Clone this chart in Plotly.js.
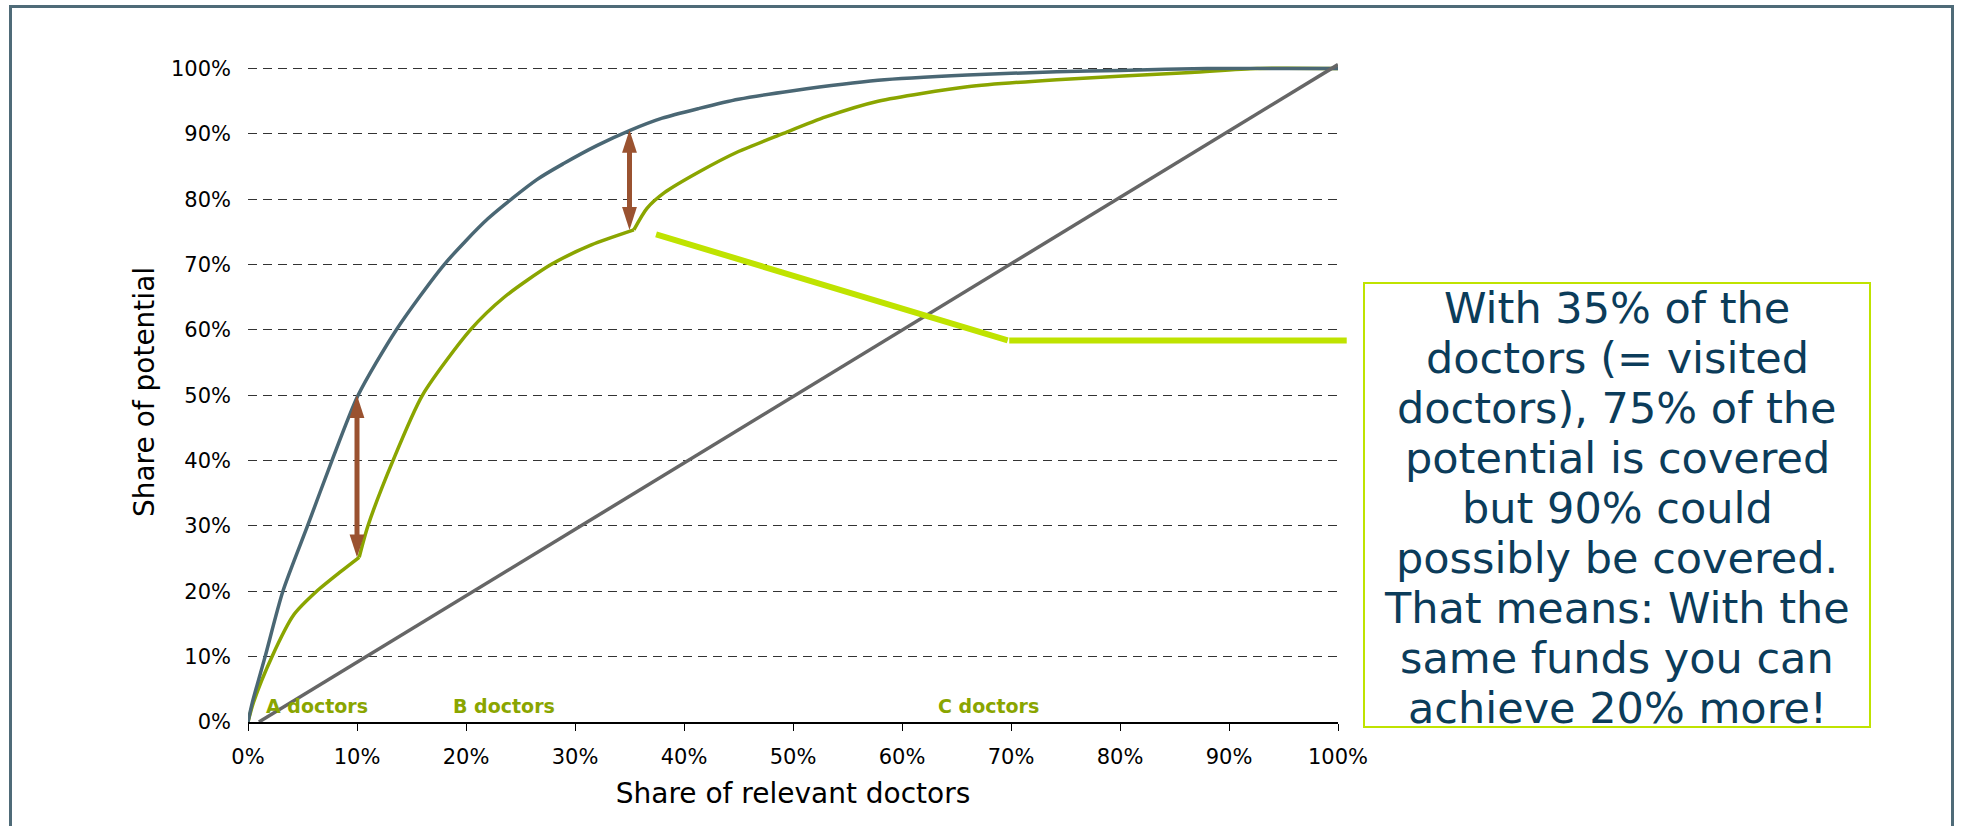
<!DOCTYPE html>
<html>
<head>
<meta charset="utf-8">
<script src="https://cdn.plot.ly/plotly-3.0.1.min.js"></script>
<style>html,body{margin:0;padding:0;background:#fff;}#chart{width:1961px;height:826px;}</style>
</head>
<body>
<div id="chart"></div>
<script>
// ---- data (percent values) ----
var optimalX = [0, 0.4, 1.57, 3.2, 5.46, 7.7, 10.1, 13.6, 18, 22, 26.5, 29, 32, 35, 38, 41.4, 45, 50, 57.8, 66, 74.2, 80, 88, 100];
var optimalY = [0, 3, 10, 20, 30, 40, 50, 60, 70, 77, 83, 85.5, 88.2, 90.5, 92.4, 93.9, 95.3, 96.6, 98.2, 99, 99.5, 99.7, 100, 100];

// actual (visited) curve, split into A / B / C doctor segments
var actualAX = [0, 0.5, 2.2, 4.2, 6.3, 8.5, 10.2];
var actualAY = [0, 3, 10, 16.4, 20, 23, 25.2];
var actualBX = [10.2, 11, 13.3, 16, 20.4, 23.5, 27.8, 31.5, 35.4];
var actualBY = [25.2, 30, 40, 50, 60, 65, 70, 73, 75.3];
var actualCX = [35.4, 36.6, 38.2, 41.4, 45, 49, 53, 57.8, 66, 74.2, 86.5, 92.6, 100];
var actualCY = [75.3, 78.6, 81, 84.2, 87.3, 90, 92.6, 95, 97.2, 98.3, 99.4, 100, 100];

var equalX = [1, 100];
var equalY = [0, 100.6];

var gapX = [10, 35];
var gapLow = [25.2, 75.3];
var gapHigh = [50, 90.6];

var calloutX = [37.3, 69.7, 100.8];
var calloutY = [74.7, 58.4, 58.4];

var segmentLabels = ['A doctors', 'B doctors', 'C doctors'];
var segmentX = [6.3, 23.5, 67.9];
var segmentY = [2.45, 2.45, 2.45];

var tickVals = [0, 10, 20, 30, 40, 50, 60, 70, 80, 90, 100];
var tickText = ['0%', '10%', '20%', '30%', '40%', '50%', '60%', '70%', '80%', '90%', '100%'];

var boxLines = ['With 35% of the', 'doctors (= visited', 'doctors), 75% of the', 'potential is covered',
  'but 90% could', 'possibly be covered.', 'That means: With the', 'same funds you can', 'achieve 20% more!'];

// ---- styles ----
var FONT = 'DejaVu Sans, Verdana, sans-serif';
var C_OPT = '#4a6774';
var C_ACT = '#8aa500';
var C_EQ = '#666666';
var C_ARROW = '#9a5230';
var C_CALL = '#bfe300';
var C_TEXT = '#0b3c5a';
var C_FRAME = '#4f6b78';

// layout geometry (pixels)
var W = 1961, H = 826;
var L = 248, R = 623, T = 62, B = 104;
var pw = W - L - R, ph = H - T - B;
function px2x(p) { return (p - L) / pw; }
function px2y(p) { return (H - B - p) / ph; }

function curve(x, y, color) {
  return {x: x, y: y, mode: 'lines', line: {color: color, width: 3.5, shape: 'spline', smoothing: 0.7}, hoverinfo: 'skip'};
}

var traces = [
  curve(actualAX, actualAY, C_ACT),
  curve(actualBX, actualBY, C_ACT),
  curve(actualCX, actualCY, C_ACT),
  curve(optimalX, optimalY, C_OPT),
  {x: equalX, y: equalY, mode: 'lines', line: {color: C_EQ, width: 3.5}, hoverinfo: 'skip'}
];

// arrow heads of the gap arrows
var headX = [], headY = [], headA = [];
for (var i = 0; i < gapX.length; i++) {
  headX.push(gapX[i], gapX[i]);
  headY.push(gapLow[i], gapHigh[i]);
  headA.push(180, 0);
}
traces.push({
  x: headX, y: headY, mode: 'markers', hoverinfo: 'skip', cliponaxis: false,
  marker: {symbol: 'arrow', size: 24, angle: headA, color: C_ARROW, line: {width: 0}}
});

var annotations = [];
// shafts of the gap arrows
for (var j = 0; j < gapX.length; j++) {
  annotations.push({
    x: gapX[j], y: gapHigh[j], xref: 'x', yref: 'y',
    ax: gapX[j], ay: gapLow[j], axref: 'x', ayref: 'y',
    text: '', showarrow: true, arrowhead: 0, arrowwidth: 5, arrowcolor: C_ARROW,
    standoff: 12, startstandoff: 12
  });
}
// callout leader line
for (var k = 0; k < calloutX.length - 1; k++) {
  annotations.push({
    x: calloutX[k + 1], y: calloutY[k + 1], xref: 'x', yref: 'y',
    ax: calloutX[k], ay: calloutY[k], axref: 'x', ayref: 'y',
    text: '', showarrow: true, arrowhead: 0, arrowwidth: 6, arrowcolor: C_CALL,
    standoff: 0, startstandoff: 0
  });
}
// segment labels
for (var m = 0; m < segmentLabels.length; m++) {
  annotations.push({
    x: segmentX[m], y: segmentY[m], xref: 'x', yref: 'y',
    text: segmentLabels[m], showarrow: false,
    font: {family: FONT, size: 19, color: C_ACT, weight: 'bold'}
  });
}
// text box lines
for (var n = 0; n < boxLines.length; n++) {
  annotations.push({
    xref: 'paper', yref: 'paper', x: px2x(1617), y: px2y(308 + 50 * n),
    xanchor: 'center', yanchor: 'middle',
    text: boxLines[n], showarrow: false,
    font: {family: FONT, size: 43, color: C_TEXT}
  });
}

var layout = {
  width: W, height: H,
  margin: {l: L, r: R, t: T, b: B, pad: 0},
  paper_bgcolor: '#ffffff', plot_bgcolor: '#ffffff',
  showlegend: false,
  font: {family: FONT, color: '#000000'},
  xaxis: {
    range: [0, 100], tickvals: tickVals, ticktext: tickText,
    showgrid: false, zeroline: false,
    showline: true, linecolor: '#000000', linewidth: 1.5,
    ticks: 'outside', ticklen: 7, tickwidth: 1, tickcolor: '#000000',
    tickfont: {family: FONT, size: 21, color: '#000000'},
    ticklabelstandoff: 8,
    title: {text: 'Share of relevant doctors', font: {family: FONT, size: 28, color: '#000000'}, standoff: 15},
    fixedrange: true
  },
  yaxis: {
    range: [0, 101], tickvals: tickVals, ticktext: tickText,
    showgrid: true, gridcolor: '#333333', gridwidth: 1, griddash: '9px,6px',
    zeroline: false, showline: false, ticks: '',
    tickfont: {family: FONT, size: 21, color: '#000000'},
    ticklabelstandoff: 16,
    title: {text: 'Share of potential', font: {family: FONT, size: 28, color: '#000000'}, standoff: 8},
    fixedrange: true
  },
  shapes: [{
    type: 'rect', xref: 'paper', yref: 'paper',
    x0: px2x(10.5), x1: px2x(1952.5), y0: px2y(900), y1: px2y(6.5),
    line: {color: C_FRAME, width: 3}, fillcolor: 'rgba(0,0,0,0)', layer: 'below'
  }, {
    type: 'rect', xref: 'paper', yref: 'paper',
    x0: px2x(1364), x1: px2x(1870), y0: px2y(727), y1: px2y(283),
    line: {color: C_CALL, width: 2}, fillcolor: '#ffffff', layer: 'below'
  }],
  annotations: annotations
};

Plotly.newPlot('chart', traces, layout, {displayModeBar: false, staticPlot: true});
</script>
</body>
</html>
